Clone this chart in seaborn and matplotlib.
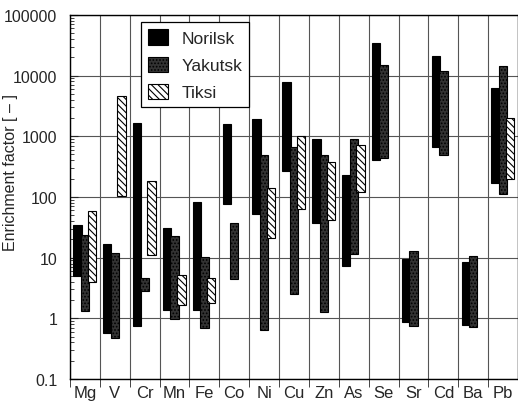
import numpy as np
import pandas as pd
import matplotlib
matplotlib.use("Agg")
import matplotlib.pyplot as plt
import seaborn as sns

# Elements on the x axis
elements = ['Mg', 'V', 'Cr', 'Mn', 'Fe', 'Co', 'Ni', 'Cu', 'Zn', 'As',
            'Se', 'Sr', 'Cd', 'Ba', 'Pb']

# Enrichment factor ranges (low, high); None = no data
norilsk_low = [4.9, 0.58, 0.75, 1.37, 1.37, 76, 52, 271, 37, 7.3, 405, 0.88, 674, 0.78, 172]
norilsk_high = [34, 16.7, 1675, 31, 81, 1610, 1900, 7730, 900, 230, 34800, 9.4, 21300, 8.4, 6300]

yakutsk_low = [1.34, 0.47, 2.8, 0.96, 0.70, 4.4, 0.63, 2.55, 1.26, 11.5, 433, 0.76, 490, 0.71, 112]
yakutsk_high = [23.6, 11.8, 4.6, 23, 10.1, 36.7, 490, 674, 490, 900, 14900, 13, 12000, 10.8, 14500]

tiksi_low = [3.9, 105, 11, 1.66, 1.81, None, 21.3, 63, 41.6, 122, None, None, None, None, 197]
tiksi_high = [58.6, 4590, 183, 5.2, 4.7, None, 139, 1007, 371, 716, None, None, None, None, 2000]

# Put everything in one long table
rows = []
for site, lo, hi in [('Norilsk', norilsk_low, norilsk_high),
                     ('Yakutsk', yakutsk_low, yakutsk_high),
                     ('Tiksi', tiksi_low, tiksi_high)]:
    for el, a, b in zip(elements, lo, hi):
        if a is not None:
            rows.append({'element': el, 'site': site, 'low': a, 'high': b})
df = pd.DataFrame(rows)

sns.set_style('ticks')
plt.rcParams['font.family'] = ['Liberation Sans', 'DejaVu Sans']
plt.rcParams['hatch.linewidth'] = 0.8

fig = plt.figure(figsize=(5.18, 4.06), dpi=100)
ax = fig.add_axes([0.135, 0.064, 0.865, 0.897])

# Bar look for each site
styles = {
    'Norilsk': dict(offset=-0.25, facecolor='black', hatch=None),
    'Yakutsk': dict(offset=0.0, facecolor='#333333', hatch='.....'),
    'Tiksi': dict(offset=0.23, facecolor='white', hatch='\\\\\\\\\\'),
}
xpos = {el: i for i, el in enumerate(elements)}

for site, st in styles.items():
    sub = df[df['site'] == site]
    x = sub['element'].map(xpos) + st['offset']
    ax.bar(x, sub['high'] - sub['low'], bottom=sub['low'], width=0.28,
           facecolor=st['facecolor'], edgecolor='black', hatch=st['hatch'],
           linewidth=0.8, label=site, zorder=3)

ax.set_yscale('log')
ax.set_ylim(0.1, 100000)
ax.set_xlim(-0.5, len(elements) - 0.5)

# y ticks
ax.set_yticks([0.1, 1, 10, 100, 1000, 10000, 100000])
ax.set_yticklabels(['0.1', '1', '10', '100', '1000', '10000', '100000'])
ax.tick_params(axis='y', which='both', direction='in', labelsize=11.5, pad=9)
ax.tick_params(axis='y', which='major', length=6)
ax.tick_params(axis='y', which='minor', length=3)

# x ticks: labels in the middle, tick marks and grid lines on boundaries
ax.set_xticks(range(len(elements)))
ax.set_xticklabels(elements, fontsize=12)
ax.tick_params(axis='x', which='major', length=0, pad=4)
ax.set_xticks(np.arange(-0.5, len(elements), 1), minor=True)
ax.tick_params(axis='x', which='minor', direction='out', length=6)

ax.grid(True, which='major', axis='y', color='#555555', linewidth=0.8, zorder=0)
ax.grid(True, which='minor', axis='x', color='#555555', linewidth=0.8, zorder=0)
ax.set_axisbelow(True)

for sp in ax.spines.values():
    sp.set_color('black')
    sp.set_linewidth(1.0)

ax.set_ylabel('Enrichment factor [ – ]', fontsize=11.5)
ax.yaxis.set_label_coords(-0.116, 0.571)

leg = ax.legend(loc='upper left', bbox_to_anchor=(0.158, 0.979), borderaxespad=0,
                fontsize=12.5, handlelength=1.15, handleheight=1.0,
                labelspacing=0.6, borderpad=0.4, handletextpad=0.8,
                fancybox=False, framealpha=1, edgecolor='black')
leg.get_frame().set_linewidth(0.9)
leg.set_zorder(5)

plt.savefig('out.png', dpi=100)
